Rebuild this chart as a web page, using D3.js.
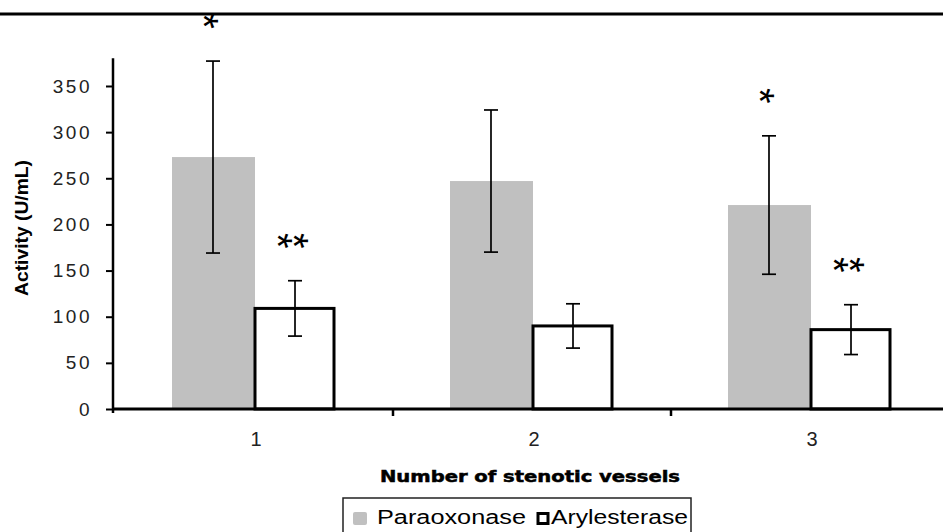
<!DOCTYPE html>
<html>
<head>
<meta charset="utf-8">
<script src="https://cdn.jsdelivr.net/npm/d3@7"></script>
<style>
	html, body { margin: 0; padding: 0; background: #fff; }
	svg { display: block; font-family: "Liberation Sans", Arial, sans-serif; }
</style>
</head>
<body>
<svg id="chart" width="943" height="532"></svg>
<script>
"use strict";

// Data
var categories = ["1", "2", "3"];
var seriesNames = ["Paraoxonase", "Arylesterase"];
var paraoxonase = [273, 247, 221];
var paraoxonaseSD = [104, 77, 75];
var arylesterase = [109, 90, 86];
var arylesteraseSD = [30, 24, 27];
var paraoxonaseMarks = ["*", "", "*"];
var arylesteraseMarks = ["**", "", "**"];
var yTicks = [0, 50, 100, 150, 200, 250, 300, 350];

var svg = d3.select('#chart');
var W = 943, H = 532;

var x0 = d3.scaleBand().domain(categories).range([115, 949]).padding(0);
var x1 = d3.scaleBand().domain(seriesNames).range([0, x0.bandwidth()]).
	paddingInner(0).paddingOuter(0.695);
var y = d3.scaleLinear().domain([0, 380]).range([409, 58.3]);

var rows = categories.map(function(c, i) {
	return [
		{cat: c, name: seriesNames[0], v: paraoxonase[i], sd: paraoxonaseSD[i], mark: paraoxonaseMarks[i]},
		{cat: c, name: seriesNames[1], v: arylesterase[i], sd: arylesteraseSD[i], mark: arylesteraseMarks[i]}
	];
});
var flat = [].concat.apply([], rows);

// top rule
svg.append('line').attr('x1', 0).attr('x2', W).attr('y1', 14).attr('y2', 14).
	attr('stroke', '#000').attr('stroke-width', 3);

// bars: grey first, white outlined ones on top
svg.append('g').selectAll('rect').data(flat.filter(function(d) { return d.name === seriesNames[0]; })).
	join('rect').
	attr('x', function(d) { return x0(d.cat) + x1(d.name); }).
	attr('y', function(d) { return y(d.v); }).
	attr('width', x1.bandwidth() + 1).
	attr('height', function(d) { return y(0) - y(d.v); }).
	attr('fill', '#c0c0c0');

svg.append('g').selectAll('rect').data(flat.filter(function(d) { return d.name === seriesNames[1]; })).
	join('rect').
	attr('x', function(d) { return x0(d.cat) + x1(d.name) + 1; }).
	attr('y', function(d) { return y(d.v); }).
	attr('width', x1.bandwidth() - 3).
	attr('height', function(d) { return y(0) - y(d.v); }).
	attr('fill', '#fff').attr('stroke', '#000').attr('stroke-width', 3);

// error bars
var err = svg.append('g').attr('stroke', '#000').attr('stroke-width', 1.7);
flat.forEach(function(d) {
	var cx = x0(d.cat) + x1(d.name) + x1.bandwidth() / 2;
	var top = y(d.v + d.sd), bot = y(d.v - d.sd);
	err.append('line').attr('x1', cx).attr('x2', cx).attr('y1', top).attr('y2', bot);
	err.append('line').attr('x1', cx - 7).attr('x2', cx + 7).attr('y1', top).attr('y2', top);
	err.append('line').attr('x1', cx - 7).attr('x2', cx + 7).attr('y1', bot).attr('y2', bot);
});

// significance stars (glyph turned a quarter so the bar lies flat, as in the original)
var starSize = 40;
flat.forEach(function(d) {
	if (!d.mark) return;
	var cx = x0(d.cat) + x1(d.name) + x1.bandwidth() / 2;
	var cy = y(d.v + d.sd) - 40;
	var n = d.mark.length;
	for (var i = 0; i < n; i++) {
		var sx = cx + (i - (n - 1) / 2) * 16;
		svg.append('text').text('*').
			attr('font-size', starSize).attr('text-anchor', 'middle').
			attr('dy', (0.575 * starSize) + 'px').
			attr('transform', 'translate(' + sx + ',' + cy + ') rotate(90)').
			attr('fill', '#000');
	}
});

// y axis
var yAxis = svg.append('g').attr('transform', 'translate(113,0)').
	call(d3.axisLeft(y).tickValues(yTicks).tickSize(7).tickSizeOuter(0).tickPadding(14));
yAxis.select('.domain').attr('stroke-width', 2.5).attr('d', 'M0,' + y(380) + 'V' + (y(0) + 4));
yAxis.selectAll('.tick line').attr('stroke-width', 2);
yAxis.selectAll('.tick text').attr('font-size', 19).attr('fill', '#222').
	style('letter-spacing', '2.5px').attr('font-family', '"Liberation Sans", Arial, sans-serif');

// x axis: baseline, boundary ticks and centred labels
svg.append('line').attr('x1', 112).attr('x2', W).attr('y1', y(0)).attr('y2', y(0)).
	attr('stroke', '#000').attr('stroke-width', 3);
svg.append('g').selectAll('line').data(categories.slice(1)).join('line').
	attr('x1', function(d) { return x0(d); }).attr('x2', function(d) { return x0(d); }).
	attr('y1', y(0)).attr('y2', y(0) + 7).attr('stroke', '#000').attr('stroke-width', 2.5);

var xAxis = svg.append('g').attr('transform', 'translate(2,' + y(0) + ')').
	call(d3.axisBottom(x0).tickSize(0).tickPadding(23));
xAxis.select('.domain').remove();
xAxis.selectAll('.tick text').attr('font-size', 20).attr('fill', '#222').
	attr('font-family', '"Liberation Sans", Arial, sans-serif');

// axis titles
svg.append('text').attr('x', 530).attr('y', 482).attr('text-anchor', 'middle').
	attr('font-family', '"DejaVu Sans", sans-serif').
	attr('font-size', 15).attr('font-weight', 'bold').attr('stroke', '#000').attr('stroke-width', 0.5).
	attr('textLength', 300).attr('lengthAdjust', 'spacingAndGlyphs').
	text('Number of stenotic vessels');

svg.append('text').attr('transform', 'translate(21,228) rotate(-90)').
	attr('text-anchor', 'middle').attr('dy', '0.35em').
	attr('font-size', 19).attr('font-weight', 'bold').
	attr('textLength', 136).attr('lengthAdjust', 'spacingAndGlyphs').
	text('Activity (U/mL)');

// legend
var legend = svg.append('g');
legend.append('rect').attr('x', 343).attr('y', 498).attr('width', 348).attr('height', 50).
	attr('fill', '#fff').attr('stroke', '#222').attr('stroke-width', 1.5);
legend.append('rect').attr('x', 353).attr('y', 512).attr('width', 14).attr('height', 13).
	attr('rx', 2).attr('fill', '#c0c0c0');
legend.append('text').attr('x', 377).attr('y', 524).attr('font-size', 20).
	attr('textLength', 149).attr('lengthAdjust', 'spacingAndGlyphs').text(seriesNames[0]);
legend.append('rect').attr('x', 538).attr('y', 513.5).attr('width', 10).attr('height', 10).
	attr('fill', '#fff').attr('stroke', '#000').attr('stroke-width', 3);
legend.append('text').attr('x', 551).attr('y', 524).attr('font-size', 20).
	attr('textLength', 137).attr('lengthAdjust', 'spacingAndGlyphs').text(seriesNames[1]);
</script>
</body>
</html>
